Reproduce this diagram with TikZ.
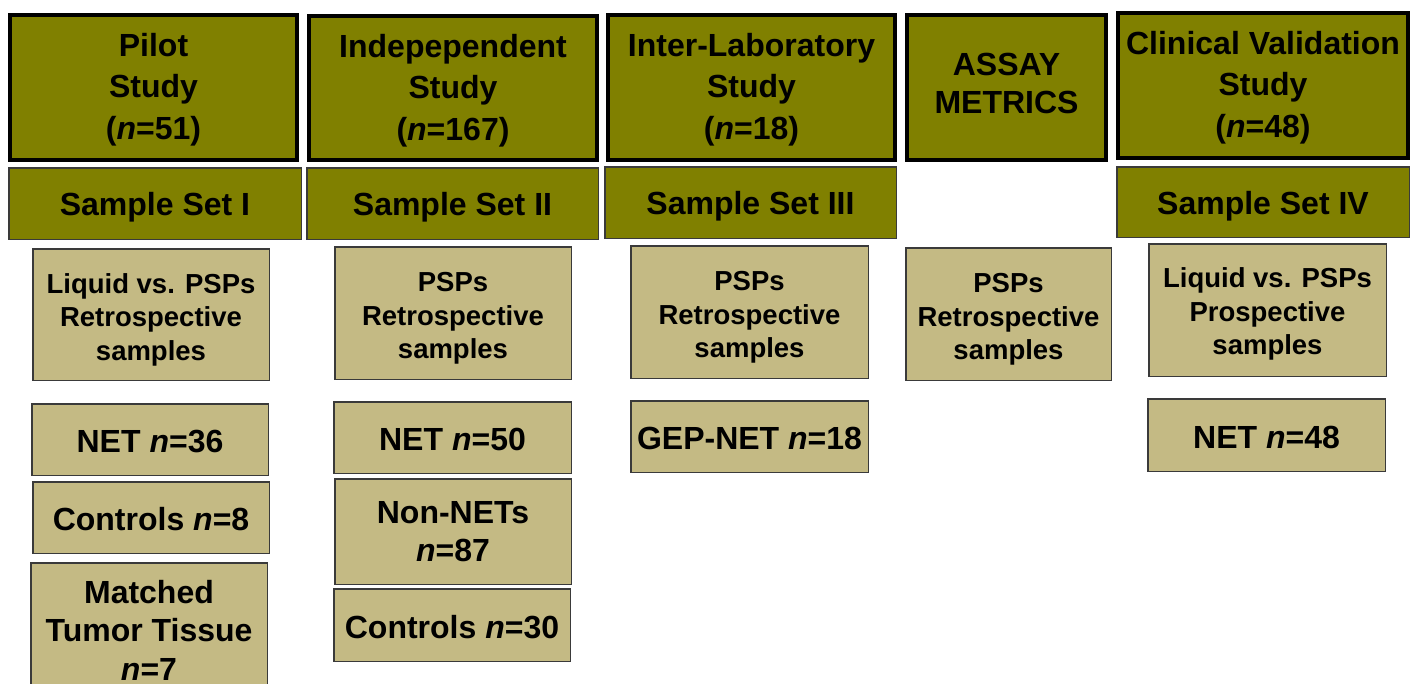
\documentclass[tikz,border=0pt]{standalone}
\usepackage{fontspec}
\setmainfont{Liberation Sans}
\definecolor{olivehdr}{HTML}{808000}
\definecolor{tanbox}{HTML}{C4BA84}
\definecolor{thinedge}{HTML}{3A3A3A}
\begin{document}
\begin{tikzpicture}[x=1pt,y=-1pt,
  hdr/.style={draw=black, line width=4pt, fill=olivehdr, inner sep=0pt, align=center,
    text height=110pt, font=\fontsize{32}{41.5}\selectfont\bfseries},
  setbox/.style={draw=thinedge, line width=1.5pt, fill=olivehdr, inner sep=0pt, align=center,
    text height=31pt, font=\fontsize{32}{38}\selectfont\bfseries},
  tanbig/.style={draw=thinedge, line width=1.5pt, fill=tanbox, inner sep=0pt, align=center,
    text height=97.5pt, font=\fontsize{27.5}{33.5}\selectfont\bfseries},
  tansmall/.style={draw=thinedge, line width=1.5pt, fill=tanbox, inner sep=0pt, align=center,
    font=\fontsize{32}{38.5}\selectfont\bfseries},
  oneline/.style={text height=27pt}]
\useasboundingbox (0,0) rectangle (1414,683);
\clip (0,0) rectangle (1414,683);
\fill[white] (0,0) rectangle (1414,683);
% headers
\node[hdr, minimum width=287pt, minimum height=145pt] (h1) at (153.5,87.5) {Pilot\\Study\\(\textit{n}=51)};
\node[hdr, minimum width=288pt, minimum height=144pt, text height=111pt] (h2) at (453,88) {Indepependent\\Study\\(\textit{n}=167)};
\node[hdr, minimum width=287pt, minimum height=145pt] (h3) at (751.5,87.5) {Inter-Laboratory\\Study\\(\textit{n}=18)};
\node[hdr, minimum width=199pt, minimum height=145pt, text height=53pt,
      font=\fontsize{32}{38}\selectfont\bfseries] (h4) at (1006.5,87.5) {ASSAY\\METRICS};
\node[hdr, minimum width=290pt, minimum height=145pt] (h5) at (1263,85.5) {Clinical Validation\\Study\\(\textit{n}=48)};
% sample sets
\node[setbox, minimum width=292.5pt, minimum height=71.5pt] (s1) at (155,203.5) {Sample Set I};
\node[setbox, minimum width=291.5pt, minimum height=71.5pt] (s2) at (452.5,203.5) {Sample Set II};
\node[setbox, minimum width=291.5pt, minimum height=71.5pt] (s3) at (750.5,202.5) {Sample Set III};
\node[setbox, minimum width=292.5pt, minimum height=70.5pt] (s4) at (1263,202) {Sample Set IV};
% column 1
\node[tanbig, minimum width=236.5pt, minimum height=131.5pt] (a1) at (151,314.5) {Liquid vs. PSPs\\Retrospective\\samples};
\node[tansmall, oneline, minimum width=236.5pt, minimum height=71.5pt] (a2) at (150,439.5) {NET \textit{n}=36};
\node[tansmall, oneline, minimum width=236.5pt, minimum height=71.5pt] (a3) at (151,517.5) {Controls \textit{n}=8};
\node[tansmall, minimum width=236.5pt, minimum height=134.5pt] (a4) at (149,630) {Matched\\Tumor Tissue\\\textit{n}=7};
% column 2
\node[tanbig, minimum width=236.5pt, minimum height=132.5pt] (b1) at (453,313) {PSPs\\Retrospective\\samples};
\node[tansmall, oneline, minimum width=237.5pt, minimum height=71.5pt] (b2) at (452.5,437.5) {NET \textit{n}=50};
\node[tansmall, minimum width=236.5pt, minimum height=105.5pt] (b3) at (453,531.5) {Non-NETs\\\textit{n}=87};
\node[tansmall, oneline, minimum width=236.5pt, minimum height=72.5pt] (b4) at (452,625) {Controls \textit{n}=30};
% column 3
\node[tanbig, minimum width=237.5pt, minimum height=132.5pt] (c1) at (749.5,312) {PSPs\\Retrospective\\samples};
\node[tansmall, oneline, minimum width=237.5pt, minimum height=71.5pt] (c2) at (749.5,436.5) {GEP-NET \textit{n}=18};
% column 4
\node[tanbig, minimum width=205.5pt, minimum height=132.5pt] (d1) at (1008.5,314) {PSPs\\Retrospective\\samples};
% column 5
\node[tanbig, minimum width=237.5pt, minimum height=132.5pt, text height=95.5pt] (e1) at (1267.5,310) {Liquid vs. PSPs\\Prospective\\samples};
\node[tansmall, oneline, minimum width=237.5pt, minimum height=72.5pt] (e2) at (1266.5,435) {NET \textit{n}=48};
\end{tikzpicture}
\end{document}
